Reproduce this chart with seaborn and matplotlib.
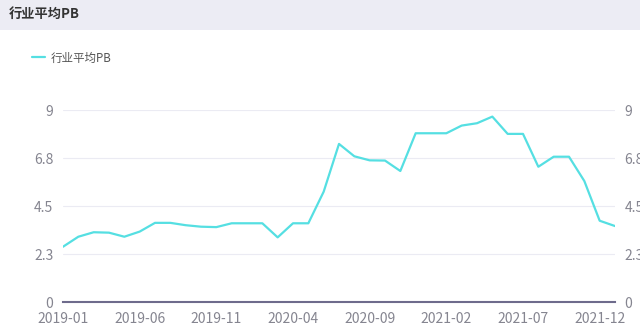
import matplotlib
matplotlib.use("Agg")
import matplotlib.pyplot as plt
import seaborn as sns
import pandas as pd
from matplotlib.patches import Rectangle

months = ["2019-01", "2019-02", "2019-03", "2019-04", "2019-05", "2019-06",
          "2019-07", "2019-08", "2019-09", "2019-10", "2019-11", "2019-12",
          "2020-01", "2020-02", "2020-03", "2020-04", "2020-05", "2020-06",
          "2020-07", "2020-08", "2020-09", "2020-10", "2020-11", "2020-12",
          "2021-01", "2021-02", "2021-03", "2021-04", "2021-05", "2021-06",
          "2021-07", "2021-08", "2021-09", "2021-10", "2021-11", "2021-12",
          "2022-01"]
pb_values = [2.59, 3.06, 3.27, 3.25, 3.06, 3.30, 3.71, 3.71, 3.60, 3.53,
             3.51, 3.69, 3.69, 3.69, 3.03, 3.69, 3.69, 5.17, 7.41, 6.83,
             6.64, 6.63, 6.14, 7.91, 7.91, 7.91, 8.27, 8.38, 8.69, 7.88,
             7.88, 6.34, 6.81, 6.81, 5.67, 3.81, 3.56]
y_ticks = [0, 2.25, 4.5, 6.75, 9]
y_tick_labels = ["0", "2.3", "4.5", "6.8", "9"]
series_name = "行业平均PB"
title_text = "行业平均PB"

sns.set_theme(style="white")
plt.rcParams['font.family'] = ['Noto Sans CJK SC', 'DejaVu Sans']

W, H = 640, 333
fig = plt.figure(figsize=(6.4, 3.33), dpi=100)
fig.patch.set_facecolor("white")

# title band
fig.patches.append(Rectangle((0, 1 - 30 / H), 1, 30 / H, transform=fig.transFigure,
                             facecolor="#ececf4", edgecolor="none", zorder=0))
fig.text(9 / W, 1 - 14 / H, title_text, ha="left", va="center", fontsize=9.5,
         fontweight="bold", color="#333333")

ax = fig.add_axes([63 / W, (H - 302) / H, (615 - 63) / W, (302 - 110) / H])
df = pd.DataFrame({"idx": range(len(months)), "month": months, "pb": pb_values})
sns.lineplot(data=df, x="idx", y="pb", ax=ax, color="#55dfe2", linewidth=1.6,
             label=series_name, legend=False)

ax.set_xlim(0, len(months) - 1)
ax.set_ylim(0, 9)
ax.set_yticks(y_ticks)
ax.set_yticklabels(y_tick_labels)
xt = list(range(0, len(months), 5))
ax.set_xticks(xt)
ax.set_xticklabels([months[i] for i in xt])
ax.set_xlabel("")
ax.set_ylabel("")
for y in y_ticks[1:]:
    ax.axhline(y, color="#ebebf3", linewidth=0.8, zorder=0)
for s in ["top", "left", "right"]:
    ax.spines[s].set_visible(False)
ax.spines["bottom"].set_color("#6e6b8c")
ax.spines["bottom"].set_linewidth(1.5)
ax.tick_params(axis="both", length=0, labelsize=10, colors="#858590")
ax.tick_params(axis="x", pad=7)
ax.tick_params(axis="y", pad=7)

ax2 = ax.twinx()
ax2.set_ylim(0, 9)
ax2.set_yticks(y_ticks)
ax2.set_yticklabels(y_tick_labels)
for s in ["top", "left", "right", "bottom"]:
    ax2.spines[s].set_visible(False)
ax2.tick_params(axis="y", length=0, labelsize=10, colors="#858590", pad=7)

handles, labels = ax.get_legend_handles_labels()
fig.legend(handles, labels, loc="center left",
           bbox_to_anchor=(22 / W, 1 - 58 / H), frameon=False,
           handlelength=1.1, handletextpad=0.45, fontsize=8.3,
           labelcolor="#555555")

fig.savefig("out.png", dpi=100)
